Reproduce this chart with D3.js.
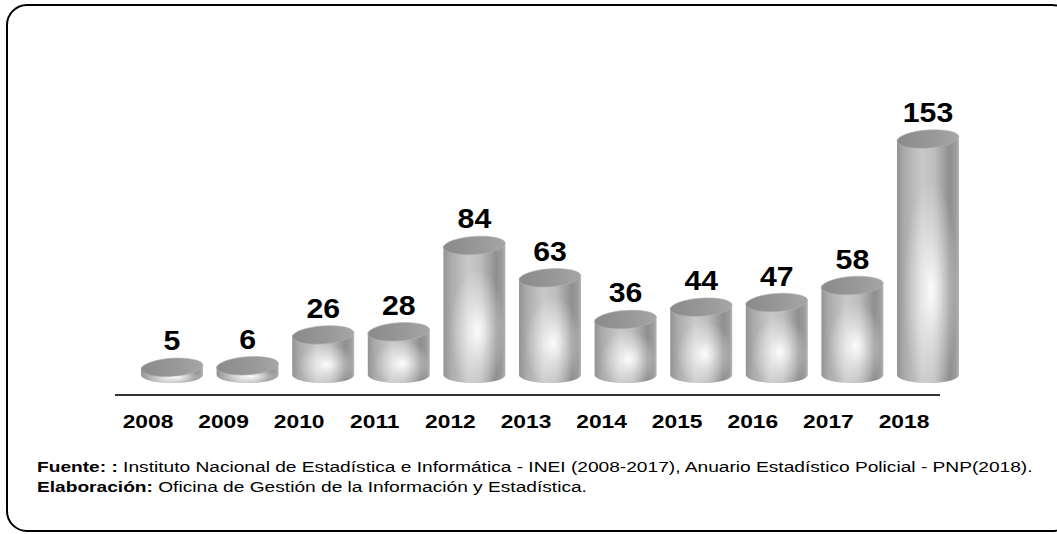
<!DOCTYPE html>
<html><head><meta charset="utf-8">
<script src="https://cdn.jsdelivr.net/npm/d3@7"></script>
<style>
html,body{margin:0;padding:0;background:#fff;}
svg{display:block;}
text{font-family:"Liberation Sans",Arial,sans-serif;}
</style></head>
<body>
<svg id="chart" width="1057" height="534"></svg>
<script>
const years = ["2008","2009","2010","2011","2012","2013","2014","2015","2016","2017","2018"];
const values = [5,6,26,28,84,63,36,44,47,58,153];
const sourceBold = "Fuente: :";
const sourceText = " Instituto Nacional de Estadística e Informática - INEI (2008-2017), Anuario Estadístico Policial - PNP(2018).";
const elabBold = "Elaboración:";
const elabText = " Oficina de Gestión de la Información y Estadística.";

const svg = d3.select("#chart");
const defs = svg.append("defs");

// frame
svg.append("rect").attr("x",7).attr("y",5).attr("width",1065).attr("height",526)
  .attr("rx",20).attr("ry",20).attr("fill","#fff").attr("stroke","#000").attr("stroke-width",2);

const x = d3.scalePoint().domain(years).range([172, 928]);
const baseY = 375;
const y = d3.scaleLinear().domain([0, 153]).range([baseY, 139]);
const rx = 31, ry = 8;

// gradients
const sideG = defs.append("linearGradient").attr("id","side").attr("x1","0").attr("x2","1").attr("y1","0").attr("y2","0");
[["0%","#939393"],["12%","#ababab"],["40%","#c9c9c9"],["60%","#bdbdbd"],["85%","#8f8f8f"],["95%","#9c9c9c"],["100%","#b5b5b5"]]
  .forEach(s=>sideG.append("stop").attr("offset",s[0]).attr("stop-color",s[1]));
const hlG = defs.append("radialGradient").attr("id","hl").attr("cx","0.55").attr("cy","0.62").attr("r","0.45")
  .attr("fx","0.55").attr("fy","0.62");
hlG.append("stop").attr("offset","0%").attr("stop-color","#ffffff").attr("stop-opacity",0.95);
hlG.append("stop").attr("offset","45%").attr("stop-color","#ffffff").attr("stop-opacity",0.45);
hlG.append("stop").attr("offset","100%").attr("stop-color","#ffffff").attr("stop-opacity",0);
const topG = defs.append("linearGradient").attr("id","topg").attr("x1","0").attr("x2","1").attr("y1","0").attr("y2","0");
[["0%","#8a8a8a"],["60%","#999"],["100%","#a6a6a6"]].forEach(s=>topG.append("stop").attr("offset",s[0]).attr("stop-color",s[1]));

// axis line
svg.append("line").attr("x1",115).attr("x2",940).attr("y1",395).attr("y2",395)
  .attr("stroke","#333").attr("stroke-width",2);

const data = years.map((yr,i)=>({yr, v: values[i]}));
const g = svg.append("g").selectAll("g").data(data).join("g");

function bodyPath(d){
  const cx = x(d.yr), t = y(d.v);
  return `M${cx-rx},${t} L${cx-rx},${baseY} A${rx},${ry} 0 0 0 ${cx+rx},${baseY} L${cx+rx},${t} Z`;
}
g.append("path").attr("d",bodyPath).attr("fill","url(#side)");
g.append("path").attr("d",bodyPath).attr("fill","url(#hl)");
g.append("ellipse").attr("cx",d=>x(d.yr)).attr("cy",d=>y(d.v)).attr("rx",rx).attr("ry",ry+1)
  .attr("transform",d=>`rotate(-4,${x(d.yr)},${y(d.v)})`)
  .attr("fill","url(#topg)").attr("stroke","#b0b0b0").attr("stroke-width",0.6);

// value labels
g.append("text").attr("transform",d=>`translate(${x(d.yr)},${y(d.v)-ry-9}) scale(1.08,1)`)
  .attr("text-anchor","middle").attr("font-size",28).attr("font-weight","bold").attr("fill","#000")
  .text(d=>d.v);

// year labels
svg.append("g").selectAll("text").data(years).join("text")
  .attr("transform",d=>`translate(${x(d)-24},428) scale(1.2,1)`).attr("text-anchor","middle")
  .attr("font-size",19).attr("font-weight","bold").attr("fill","#000").text(d=>d);

// footnotes
const f1 = svg.append("text").attr("transform","translate(37,472) scale(1.236,1)")
  .attr("font-size",15.5).attr("fill","#000");
f1.append("tspan").attr("font-weight","bold").text(sourceBold);
f1.append("tspan").text(sourceText);
const f2 = svg.append("text").attr("transform","translate(37,492) scale(1.236,1)")
  .attr("font-size",15.5).attr("fill","#000");
f2.append("tspan").attr("font-weight","bold").text(elabBold);
f2.append("tspan").text(elabText);
</script>
</body></html>
